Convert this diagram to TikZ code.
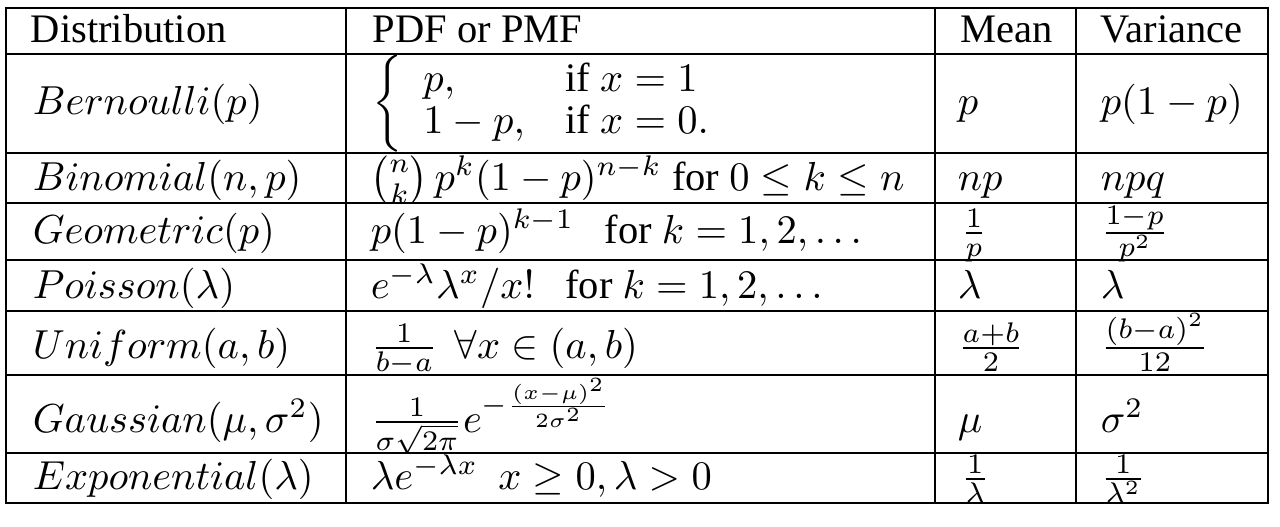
\documentclass[tikz,border=0pt]{standalone}
\usepackage{amsmath}
\usepackage{amssymb}
\usepackage[no-math]{fontspec}
\setmainfont{Liberation Serif}
\usepackage{tikz}

\newcommand{\cellfont}{\fontsize{10}{11.85}\selectfont}
\tikzset{
  rule/.style={line width=0.68pt, black},
  cell/.style={anchor=base west, inner sep=0pt, font=\cellfont}
}

\begin{document}
\begin{tikzpicture}[x=0.2469pt, y=-0.2469pt]
  \useasboundingbox (0,0) rectangle (1280,526);
  % frame and rules of the table
  \draw[rule] (6,8) rectangle (1268,503);
  \draw[rule] (6,54) -- (1268,54);
  \draw[rule] (6,153) -- (1268,153);
  \draw[rule] (6,203) -- (1268,203);
  \draw[rule] (6,260) -- (1268,260);
  \draw[rule] (6,311) -- (1268,311);
  \draw[rule] (6,375) -- (1268,375);
  \draw[rule] (6,453) -- (1268,453);
  \draw[rule] (346,8) -- (346,503);
  \draw[rule] (935,8) -- (935,503);
  \draw[rule] (1076,8) -- (1076,503);
  % header
  \node[cell] (hdist) at (30,42) {Distribution};
  \node[cell] (hpdf) at (372,42) {PDF or PMF};
  \node[cell] (hmean) at (960,42) {Mean};
  \node[cell] (hvar) at (1100,42) {Variance};
  % distributions
  \node[cell] (bern) at (32,114) {$Bernoulli(p)$};
  \node[cell] (binom) at (32,190) {$Binomial(n,p)$};
  \node[cell] (geom) at (32,243) {$Geometric(p)$};
  \node[cell] (poiss) at (32,298) {$Poisson(\lambda)$};
  \node[cell] (unif) at (32,358) {$Uniform(a,b)$};
  \node[cell] (gauss) at (32,432) {$Gaussian(\mu,\sigma^2)$};
  \node[cell] (expo) at (32,489) {$Exponential(\lambda)$};
  % pdf or pmf
  \node[cell] (bernpdf) at (372,114) {\renewcommand{\arraystretch}{0.875}$\left\{\rule[-9.5pt]{0pt}{24pt}\begin{array}{ll}
      p, & \text{if } x=1\\
      1-p, & \text{if } x=0.
    \end{array}\right.$};
  \node[cell] (binompdf) at (370,190) {$\binom{n}{k}\,p^k(1-p)^{n-k}$ for $0\leq k\leq n$};
  \node[cell] (geompdf) at (370,243) {$p(1-p)^{k-1}\ \ $ for $k=1,2,\ldots$};
  \node[cell] (poisspdf) at (370,298) {$e^{-\lambda}\lambda^x/x!\ \ $ for $k=1,2,\ldots$};
  \node[cell] (unifpdf) at (370,358) {$\frac{1}{b-a}\ \,\forall x\in(a,b)$};
  \node[cell] (gausspdf) at (370,432) {$\frac{1}{\sigma\sqrt{2\pi}}e^{-\frac{(x-\mu)^2}{2\sigma^2}}$};
  \node[cell] (expopdf) at (370,489) {$\lambda e^{-\lambda x}\ \ x\geq 0,\lambda>0$};
  % mean
  \node[cell] (bernmean) at (957,114) {$p$};
  \node[cell] (binommean) at (957,190) {$np$};
  \node[cell] (geommean) at (960,243) {$\frac{1}{p}$};
  \node[cell] (poissmean) at (957,298) {$\lambda$};
  \node[cell] (unifmean) at (957,358) {$\frac{a+b}{2}$};
  \node[cell] (gaussmean) at (957,432) {$\mu$};
  \node[cell] (expomean) at (960,489) {$\frac{1}{\lambda}$};
  % variance
  \node[cell] (bernvar) at (1100,114) {$p(1-p)$};
  \node[cell] (binomvar) at (1100,190) {$npq$};
  \node[cell] (geomvar) at (1100,243) {$\frac{1-p}{p^2}$};
  \node[cell] (poissvar) at (1100,298) {$\lambda$};
  \node[cell] (unifvar) at (1100,358) {$\frac{(b-a)^2}{12}$};
  \node[cell] (gaussvar) at (1100,432) {$\sigma^2$};
  \node[cell] (expovar) at (1100,489) {$\frac{1}{\lambda^2}$};
\end{tikzpicture}
\end{document}
